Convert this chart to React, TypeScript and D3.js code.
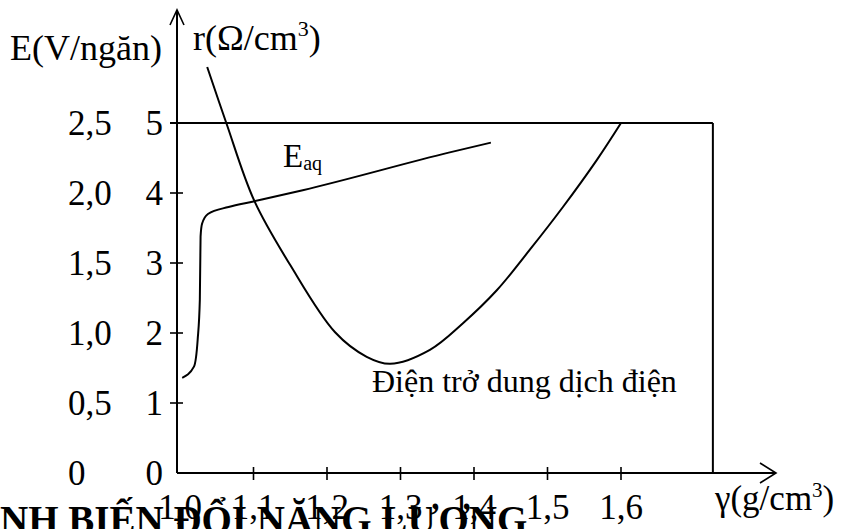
import React from "react";
import * as d3 from "d3";

// Density ticks (g/cm3) and the two vertical scales
const gammaTicks = [1.0, 1.1, 1.2, 1.3, 1.4, 1.5, 1.6];
const gammaTickLabels = ["1,0", "1,1", "1,2", "1,3", "1,4", "1,5", "1,6"];
const rTicks = [0, 1, 2, 3, 4, 5];
const eTickLabels = ["0", "0,5", "1,0", "1,5", "2,0", "2,5"];

// E_aq : cell voltage (V per cell) vs electrolyte density
const eGamma = [1.003, 1.019, 1.024, 1.027, 1.028, 1.03, 1.038, 1.066, 1.1, 1.167, 1.367, 1.423];
const eValues = [0.68, 0.76, 0.95, 1.24, 1.69, 1.78, 1.85, 1.9, 1.94, 2.02, 2.29, 2.36];

// Electrolyte resistivity (ohm/cm3) vs density
const rGamma = [1.037, 1.063, 1.101, 1.15, 1.211, 1.254, 1.286, 1.34, 1.385, 1.431, 1.476, 1.521, 1.567, 1.6];
const rValues = [5.8, 5.0, 3.89, 2.97, 2.01, 1.66, 1.56, 1.76, 2.14, 2.61, 3.19, 3.8, 4.47, 5.0];

const W = 841;
const H = 529;
const FONT = "'Liberation Serif', 'Times New Roman', serif";

export default function App() {
  const x = d3.scaleLinear().domain([1.0, 1.6]).range([180, 621]);
  const yR = d3.scaleLinear().domain([0, 5]).range([473, 123]);
  const yE = d3.scaleLinear().domain([0, 2.5]).range([473, 123]);

  const axisX = 177;
  const axisY = yR(0);
  const frameRight = x(1.725);
  const arrowEnd = 776;
  const arrowTop = 10;

  const eLine = d3
    .line<number>()
    .x((_, i) => x(eGamma[i]))
    .y((d) => yE(d))
    .curve(d3.curveMonotoneX);

  const rLine = d3
    .line<number>()
    .x((_, i) => x(rGamma[i]))
    .y((d) => yR(d))
    .curve(d3.curveCatmullRom.alpha(0.5));

  const stroke = "#000";

  return (
    <svg
      width={W}
      height={H}
      style={{ position: "absolute", left: 0, top: 0, background: "#fff" }}
      fontFamily={FONT}
    >
      <rect width={W} height={H} fill="#fff" />

      {/* vertical axis with arrow */}
      <line x1={axisX} y1={axisY} x2={axisX} y2={arrowTop} stroke={stroke} strokeWidth={2} />
      <polyline
        points={`${axisX - 7},${arrowTop + 15} ${axisX},${arrowTop} ${axisX + 7},${arrowTop + 15}`}
        fill="none"
        stroke={stroke}
        strokeWidth={1.6}
      />

      {/* horizontal axis with arrow */}
      <line x1={axisX} y1={axisY} x2={arrowEnd} y2={axisY} stroke={stroke} strokeWidth={2} />
      <polyline
        points={`${arrowEnd - 16},${axisY - 10} ${arrowEnd},${axisY} ${arrowEnd - 16},${axisY + 10}`}
        fill="none"
        stroke={stroke}
        strokeWidth={1.6}
      />

      {/* frame: top line at r = 5 and right side */}
      <line x1={axisX - 7} y1={yR(5)} x2={frameRight} y2={yR(5)} stroke={stroke} strokeWidth={2} />
      <line x1={frameRight} y1={yR(5)} x2={frameRight} y2={axisY} stroke={stroke} strokeWidth={2} />

      {/* y ticks and labels */}
      {rTicks.map((t, i) => (
        <g key={"yt" + t}>
          {t > 0 && (
            <line x1={axisX - 7} y1={yR(t)} x2={axisX + 6} y2={yR(t)} stroke={stroke} strokeWidth={1.6} />
          )}
          <text x={163} y={yR(t) + 12} fontSize={35} textAnchor="end" fill="#000">
            {String(t)}
          </text>
          <text x={68} y={yE(t / 2) + 12} fontSize={35} textAnchor="start" fill="#000">
            {eTickLabels[i]}
          </text>
        </g>
      ))}

      {/* x ticks and labels */}
      {gammaTicks.map((g, i) => (
        <g key={"xt" + g}>
          {i > 0 && (
            <line x1={x(g)} y1={axisY - 6} x2={x(g)} y2={axisY + 7} stroke={stroke} strokeWidth={1.6} />
          )}
          <text x={x(g)} y={519} fontSize={35} textAnchor="middle" fill="#000">
            {gammaTickLabels[i]}
          </text>
        </g>
      ))}

      {/* curves */}
      <path d={rLine(rValues) || ""} fill="none" stroke={stroke} strokeWidth={2} />
      <path d={eLine(eValues) || ""} fill="none" stroke={stroke} strokeWidth={2} />

      {/* axis titles */}
      <text x={10} y={60} fontSize={36} fill="#000">
        E(V/ngăn)
      </text>
      <text x={193} y={50} fontSize={36} fill="#000">
        r(Ω/cm<tspan fontSize={22} dy={-14}>3</tspan>
        <tspan dy={14}>)</tspan>
      </text>
      <text x={715} y={510} fontSize={35} fill="#000">
        γ(g/cm<tspan fontSize={21} dy={-13}>3</tspan>
        <tspan dy={13}>)</tspan>
      </text>

      {/* curve annotations */}
      <text x={283} y={167} fontSize={33} fill="#000">
        E<tspan fontSize={20} dy={3}>aq</tspan>
      </text>
      <text x={372} y={392} fontSize={32} fill="#000">
        Điện trở dung dịch điện
      </text>

      {/* heading running along the bottom edge */}
      <text x={0} y={533} fontSize={39} fontWeight="bold" fill="#000">
        NH BIẾN ĐỔI NĂNG LƯỢNG
      </text>
    </svg>
  );
}
